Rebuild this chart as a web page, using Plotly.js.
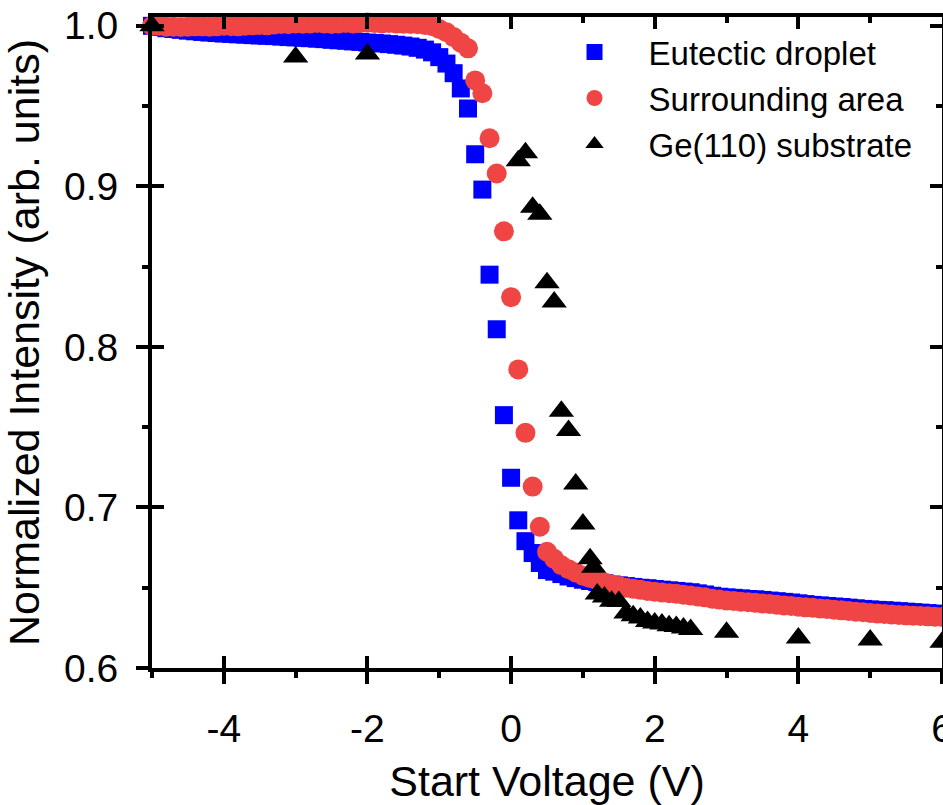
<!DOCTYPE html>
<html>
<head>
<meta charset="utf-8">
<script src="https://cdn.plot.ly/plotly-3.0.1.min.js"></script>
<style>html,body{margin:0;padding:0;background:#fff;}#chart{width:943px;height:805px;}</style>
</head>
<body>
<div id="chart"></div>
<script>
// Start voltage (V), 0.1 V steps, shared by droplet and surrounding-area series
const voltage = [-5.0,-4.9,-4.8,-4.7,-4.6,-4.5,-4.4,-4.3,-4.2,-4.1,-4.0,-3.9,-3.8,-3.7,-3.6,-3.5,-3.4,-3.3,-3.2,-3.1,
  -3.0,-2.9,-2.8,-2.7,-2.6,-2.5,-2.4,-2.3,-2.2,-2.1,-2.0,-1.9,-1.8,-1.7,-1.6,-1.5,-1.4,-1.3,-1.2,-1.1,
  -1.0,-0.9,-0.8,-0.7,-0.6,-0.5,-0.4,-0.3,-0.2,-0.1,0.0,0.1,0.2,0.3,0.4,0.5,0.6,0.7,0.8,0.9,
  1.0,1.1,1.2,1.3,1.4,1.5,1.6,1.7,1.8,1.9,2.0,2.1,2.2,2.3,2.4,2.5,2.6,2.7,2.8,2.9,
  3.0,3.1,3.2,3.3,3.4,3.5,3.6,3.7,3.8,3.9,4.0,4.1,4.2,4.3,4.4,4.5,4.6,4.7,4.8,4.9,
  5.0,5.1,5.2,5.3,5.4,5.5,5.6,5.7,5.8,5.9,6.0];

const eutecticDroplet = [1.000,0.9993,0.9985,0.998,0.9975,0.997,0.9966,0.9962,0.9958,0.9955,
  0.9952,0.995,0.9947,0.9945,0.9942,0.994,0.9938,0.9936,0.9933,0.993,
  0.9928,0.9925,0.9923,0.992,0.9917,0.9913,0.991,0.9907,0.9903,0.990,
  0.9896,0.9893,0.989,0.9886,0.9882,0.9877,0.9871,0.9863,0.9852,0.9835,
  0.9805,0.9765,0.9705,0.961,0.9485,0.920,0.898,0.845,0.811,0.7575,
  0.7185,0.692,0.679,0.6716,0.6654,0.661,0.660,0.6585,0.657,0.656,
  0.655,0.6542,0.6535,0.6528,0.652,0.6515,0.651,0.6505,0.650,0.6497,
  0.6492,0.6488,0.6484,0.648,0.6476,0.6472,0.6465,0.6458,0.645,0.6444,
  0.644,0.6437,0.6434,0.643,0.6428,0.6424,0.642,0.6416,0.6412,0.6408,
  0.6403,0.6398,0.6393,0.639,0.6386,0.6383,0.638,0.6376,0.6372,0.6368,
  0.6365,0.6362,0.636,0.6357,0.6354,0.6351,0.6348,0.6345,0.6342,0.6339,0.6336];

const surroundingArea = [1.000,1.000,0.9995,0.9995,0.9993,0.9995,0.9997,0.9997,0.9995,0.9997,
  1.000,0.9998,0.9997,1.000,1.0003,1.0005,1.0003,1.0008,1.0012,1.001,
  1.0015,1.0013,1.0015,1.0018,1.0015,1.0012,1.0015,1.0018,1.0015,1.0018,
  1.002,1.0017,1.0015,1.0018,1.0015,1.0013,1.0012,1.001,1.0005,0.9998,
  0.998,0.996,0.993,0.9895,0.986,0.966,0.958,0.930,0.908,0.872,
  0.831,0.786,0.7465,0.713,0.688,0.6724,0.668,0.664,0.6615,0.6595,
  0.6575,0.656,0.6545,0.6532,0.652,0.651,0.650,0.6493,0.6487,0.648,
  0.6475,0.647,0.6466,0.6462,0.6457,0.6452,0.6446,0.644,0.6432,0.6426,
  0.6421,0.6417,0.6413,0.641,0.6406,0.6402,0.6398,0.6394,0.639,0.6386,
  0.6382,0.6378,0.6375,0.6371,0.6367,0.6363,0.6359,0.6355,0.6351,0.6347,
  0.6343,0.6339,0.6336,0.6333,0.633,0.6328,0.6326,0.6324,0.6322,0.632,0.6318];

// Ge(110) substrate: sparse measurements
const substrateVoltage = [-5,-3,-2,0.1,0.2,0.3,0.4,0.5,0.6,0.7,0.8,0.9,1.0,1.1,1.15,1.2,1.3,1.4,1.5,1.6,1.7,1.8,1.9,2.0,2.1,2.2,2.3,2.4,2.5,3,4,5,6];
const substrateIntensity = [1.000,0.9806,0.9825,0.916,0.921,0.887,0.8827,0.840,0.828,0.760,0.748,0.7146,0.6897,0.668,0.6627,0.6461,0.6442,0.6415,0.6414,0.6342,0.6326,0.6311,0.629,0.628,0.6274,0.6263,0.6258,0.6249,0.624,0.6222,0.6187,0.6174,0.616];

const seriesNames = ['Eutectic droplet','Surrounding area','Ge(110) substrate'];
const xTickVals = [-4, -2, 0, 2, 4, 6];
const xTickText = ['-4', '-2', '0', '2', '4', '6'];
const yTickVals = [0.6, 0.7, 0.8, 0.9, 1.0];
const yTickText = ['0.6', '0.7', '0.8', '0.9', '1.0'];
const xTitle = 'Start Voltage (V)';
const yTitle = 'Normalized Intensity (arb. units)';

const FONT = 'Arial, "Liberation Sans", sans-serif';
const xRange = [-5, 6];
const yRange = [0.6, 1.0055];

const traces = [
  {x: voltage, y: eutecticDroplet, name: seriesNames[0], type: 'scatter', mode: 'markers', cliponaxis: false,
   marker: {symbol: 'square', size: 18, color: '#0000FF'}},
  {x: voltage, y: surroundingArea, name: seriesNames[1], type: 'scatter', mode: 'markers', cliponaxis: false,
   marker: {symbol: 'circle', size: 20, color: '#F04545'}},
  {x: substrateVoltage, y: substrateIntensity, name: seriesNames[2], type: 'scatter', mode: 'markers', cliponaxis: false,
   marker: {symbol: 'triangle-up', size: 22, color: '#000000'}},
  // transparent copies that only carry the extra tick axes (inside ticks, top and right frame)
  {x: substrateVoltage, y: substrateIntensity, xaxis: 'x2', yaxis: 'y2', type: 'scatter', mode: 'markers',
   showlegend: false, hoverinfo: 'skip', marker: {opacity: 0, size: 1}},
  {x: substrateVoltage, y: substrateIntensity, xaxis: 'x3', yaxis: 'y3', type: 'scatter', mode: 'markers',
   showlegend: false, hoverinfo: 'skip', marker: {opacity: 0, size: 1}}
];

const common = {showgrid: false, zeroline: false, tickcolor: '#000', tickwidth: 4, linecolor: '#000', linewidth: 4};

const layout = {
  width: 943, height: 805,
  margin: {l: 152, r: 1, t: 17, b: 137},
  paper_bgcolor: '#fff', plot_bgcolor: 'rgba(0,0,0,0)',
  font: {family: FONT, color: '#000'},
  showlegend: true,
  legend: {x: 0.4918, y: 0.989, xanchor: 'left', yanchor: 'top', bgcolor: 'rgba(0,0,0,0)',
           font: {family: FONT, size: 33, color: '#000'}, itemwidth: 98, tracegroupgap: 0},
  xaxis: Object.assign({}, common, {
    range: xRange, autorange: false, showline: true, ticks: 'outside', ticklen: 12,
    tickmode: 'array', tickvals: xTickVals, ticktext: xTickText, ticklabeloverflow: 'allow',
    tickfont: {family: FONT, size: 39}, ticklabelstandoff: 11,
    minor: {ticks: 'outside', ticklen: 6, tickwidth: 4, tickcolor: '#000', dtick: 1, tick0: 0, showgrid: false},
    title: {text: xTitle, font: {family: FONT, size: 43}, standoff: 18}
  }),
  xaxis2: Object.assign({}, common, {
    overlaying: 'x', side: 'bottom', anchor: 'y2', range: xRange, autorange: false,
    showline: false, ticks: 'inside', ticklen: 12, tick0: 0, dtick: 2, showticklabels: false
  }),
  xaxis3: Object.assign({}, common, {
    overlaying: 'x', side: 'top', anchor: 'y3', range: xRange, autorange: false,
    showline: true, ticks: 'inside', ticklen: 12, tick0: 0, dtick: 2, showticklabels: false,
    minor: {ticks: 'inside', ticklen: 6, tickwidth: 4, tickcolor: '#000', dtick: 1, tick0: 0, showgrid: false}
  }),
  yaxis: Object.assign({}, common, {
    range: yRange, autorange: false, showline: true, ticks: 'outside', ticklen: 12,
    tickmode: 'array', tickvals: yTickVals, ticktext: yTickText,
    tickfont: {family: FONT, size: 39}, ticklabelstandoff: 10,
    minor: {ticks: 'outside', ticklen: 6, tickwidth: 4, tickcolor: '#000', dtick: 0.05, tick0: 0.6, showgrid: false},
    title: {text: yTitle, font: {family: FONT, size: 43}, standoff: 18}
  }),
  yaxis2: Object.assign({}, common, {
    overlaying: 'y', side: 'left', anchor: 'x2', range: yRange, autorange: false,
    showline: false, ticks: 'inside', ticklen: 12, tick0: 0.6, dtick: 0.1, showticklabels: false
  }),
  yaxis3: Object.assign({}, common, {
    overlaying: 'y', side: 'right', anchor: 'x3', range: yRange, autorange: false,
    showline: true, ticks: 'inside', ticklen: 12, tick0: 0.6, dtick: 0.1, showticklabels: false,
    minor: {ticks: 'inside', ticklen: 6, tickwidth: 4, tickcolor: '#000', dtick: 0.05, tick0: 0.6, showgrid: false}
  })
};

Plotly.newPlot('chart', traces, layout, {displayModeBar: false, staticPlot: true});
</script>
</body>
</html>
